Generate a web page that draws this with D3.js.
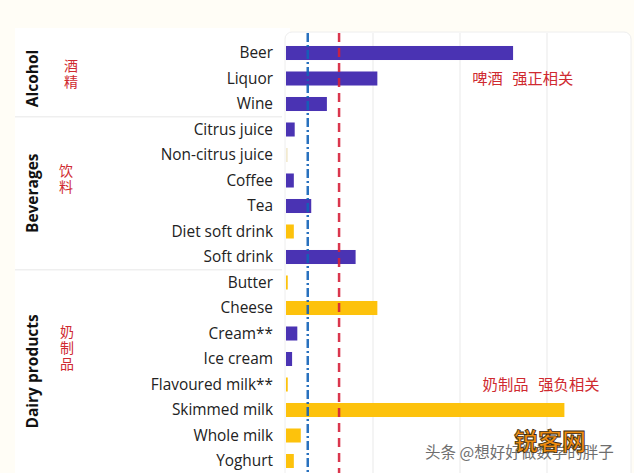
<!DOCTYPE html>
<html><head><meta charset="utf-8">
<script src="https://cdn.jsdelivr.net/npm/d3@7"></script>
<style>html,body{margin:0;padding:0;background:#fffdf6;}svg{display:block;}</style>
</head><body>
<script>
const categories = ["Beer","Liquor","Wine","Citrus juice","Non-citrus juice","Coffee","Tea","Diet soft drink","Soft drink","Butter","Cheese","Cream**","Ice cream","Flavoured milk**","Skimmed milk","Whole milk","Yoghurt"];
const values = [2.61,1.05,0.47,0.10,0.02,0.09,0.29,0.09,0.80,0.02,1.05,0.13,0.07,0.02,3.20,0.17,0.09];
const direction = ["pos","pos","pos","pos","none","pos","pos","neg","pos","neg","neg","pos","pos","neg","neg","neg","neg"];
const groups = ["Alcohol","Beverages","Dairy products"];
const groupStart = ["Beer","Citrus juice","Butter"];
const groupEnd = ["Wine","Soft drink","Yoghurt"];
const groupNotes = ["酒精","饮料","奶制品"];
const gridTicks = [1,2,3];
const refBlue = 0.25, refRed = 0.61;
const notes = [
  {cat:"Liquor", parts:["啤酒","强正相关"], v:[2.14,2.6]},
  {cat:"Flavoured milk**", parts:["奶制品","强负相关"], v:[2.26,2.9]}
];

const W=634,H=473;
const svg=d3.select("body").append("svg").attr("width",W).attr("height",H);
const x=d3.scaleLinear().domain([0,4]).range([286,634]);
const y=d3.scaleBand().domain(categories).range([40.25,473.75]).paddingInner(0.45).paddingOuter(0.225);
const font="'Open Sans', 'Noto Sans', sans-serif";
const cjk="'Noto Sans CJK SC', sans-serif";
const colors={pos:"#4a33b3",neg:"#fdc20c",none:"#f2ead0"};
const red="#cf2a30";

// left panel
svg.append("rect").attr("x",15).attr("y",28).attr("width",275).attr("height",H).attr("fill","#fff");
// plot panel
svg.append("rect").attr("x",285).attr("y",32).attr("width",346).attr("height",H).attr("rx",7)
  .attr("fill","#fff").attr("stroke","#eeeeee");

// group separators
groupStart.slice(1).forEach(c=>{
  const yy=y(c)-(y.step()-y.bandwidth())/2;
  svg.append("line").attr("x1",15).attr("x2",282).attr("y1",yy).attr("y2",yy).attr("stroke","#efefef").attr("stroke-width",1.5);
});

// grid
svg.append("g").selectAll("line").data(gridTicks).join("line")
  .attr("x1",d=>x(d)).attr("x2",d=>x(d)).attr("y1",33).attr("y2",H)
  .attr("stroke","#f0f0f0").attr("stroke-width",1.5);

// bars
svg.append("g").selectAll("rect").data(categories).join("rect")
  .attr("x",x(0)).attr("y",d=>y(d)).attr("height",y.bandwidth())
  .attr("width",(d,i)=>Math.max(1.5,x(values[i])-x(0)))
  .attr("fill",(d,i)=>colors[direction[i]]);

// reference lines
svg.append("line").attr("x1",x(refBlue)).attr("x2",x(refBlue)).attr("y1",33).attr("y2",H)
  .attr("stroke","#1262b8").attr("stroke-width",2.5).attr("stroke-dasharray","9,3,2,3").attr("opacity",0.9);
svg.append("line").attr("x1",x(refRed)).attr("x2",x(refRed)).attr("y1",33).attr("y2",H)
  .attr("stroke","#d6213a").attr("stroke-width",2.5).attr("stroke-dasharray","9,6").attr("opacity",0.9);

// category labels
svg.append("g").selectAll("text").data(categories).join("text")
  .attr("x",273).attr("y",d=>y(d)+y.bandwidth()/2).attr("dy","0.35em")
  .attr("text-anchor","end").attr("font-family",font).attr("font-size",15.4).attr("fill","#222")
  .text(d=>d);

// group labels and Chinese notes (vertical)
const noteX=[71,66,67], noteTop=[59,164,325];
groups.forEach((g,i)=>{
  const y0=y(groupStart[i])-(y.step()-y.bandwidth())/2;
  const y1=Math.min(y(groupEnd[i])+y.bandwidth()+(y.step()-y.bandwidth())/2, H);
  const cy=(y0+y1)/2;
  svg.append("text").attr("transform",`translate(38,${cy}) rotate(-90)`)
    .attr("text-anchor","middle").attr("font-family",font).attr("font-weight","bold")
    .attr("font-size",15.5).attr("fill","#111").text(g);
  svg.append("text").attr("x",noteX[i]).attr("y",noteTop[i])
    .style("writing-mode","vertical-rl").style("letter-spacing","2px")
    .attr("font-family",cjk).attr("font-size",14).attr("fill",red).text(groupNotes[i]);
});

// annotations
notes.forEach(n=>{
  n.parts.forEach((p,k)=>{
    svg.append("text").attr("x",x(n.v[k])).attr("y",y(n.cat)+y.bandwidth()/2).attr("dy","0.38em")
      .attr("font-family",cjk).attr("font-size",15.3).attr("fill",red).text(p);
  });
});

// watermark
svg.append("text").attr("x",425).attr("y",458).attr("font-family",cjk).attr("font-size",15.5)
  .attr("fill","#555").attr("opacity",0.85).text("头条 @想好好做数学的胖子");
svg.append("text").attr("x",514).attr("y",450).attr("font-family",cjk).attr("font-weight","bold").attr("font-size",24)
  .attr("fill","#f08c10").attr("stroke","#3a2a10").attr("stroke-width",0.8).text("锐客网");
</script>
</body></html>
